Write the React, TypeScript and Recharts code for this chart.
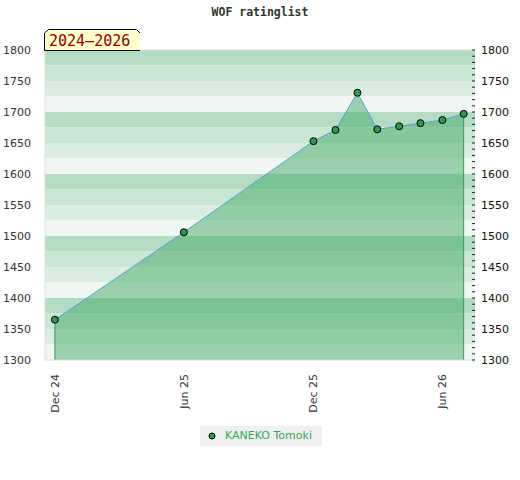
import React from "react";
import {
  ComposedChart,
  Area,
  Line,
  XAxis,
  YAxis,
  ReferenceArea,
  ReferenceLine,
} from "recharts";

// monthly rating list entries
const months = [
  [2024, 12],
  [2025, 6],
  [2025, 12],
  [2026, 1],
  [2026, 2],
  [2026, 3],
  [2026, 4],
  [2026, 5],
  [2026, 6],
  [2026, 7],
];
const ratings = [1365, 1506, 1653, 1671, 1731, 1672, 1677, 1682, 1687, 1697];

const xTickMonths = [
  [2024, 12],
  [2025, 6],
  [2025, 12],
  [2026, 6],
];
const xTickLabels = ["Dec 24", "Jun 25", "Dec 25", "Jun 26"];

const yMajorTicks = [1300, 1350, 1400, 1450, 1500, 1550, 1600, 1650, 1700, 1750, 1800];
const yMin = 1300;
const yMax = 1800;
const minorStep = 10;
const bandStep = 25;
const bandShades = ["#b3dcc3", "#c8e6d3", "#dbede1", "#f0f7f2"];

const toTime = ([y, m]: number[]) => Date.UTC(y, m - 1, 1);
const DAY = 86400000;

const data = months.map((m, i) => ({ t: toTime(m), rating: ratings[i] }));
const xTicks = xTickMonths.map(toTime);
const xDomain = [data[0].t - 14 * DAY, data[data.length - 1].t + 16 * DAY];

const minorTicks: number[] = [];
for (let v = yMin; v <= yMax; v += minorStep) minorTicks.push(v);

const bands: { y1: number; y2: number; fill: string }[] = [];
for (let top = yMax; top > yMin; top -= bandStep) {
  const idx = ((yMax - top) / bandStep) % 4;
  bands.push({ y1: top - bandStep, y2: top, fill: bandShades[idx] });
}

const first = data[0];
const last = data[data.length - 1];

function XTick(props: any) {
  const { x, y, payload } = props;
  const label = xTickLabels[xTicks.indexOf(payload.value)];
  return (
    <text
      x={x}
      y={y + 12}
      dy={4}
      transform={`rotate(-90, ${x}, ${y + 12})`}
      textAnchor="end"
      fontSize={11}
      fill="#333"
    >
      {label}
    </text>
  );
}

function RightTick(props: any) {
  const { x, y, payload } = props;
  const v = payload.value;
  return (
    <g>
      <line x1={x - 3} x2={x} y1={y} y2={y} stroke="#222" />
      {v % 50 === 0 && (
        <text x={x + 6} y={y} dy={4} fontSize={11} fill="#111">
          {v}
        </text>
      )}
    </g>
  );
}

export default function App() {
  return (
    <div
      style={{
        position: "absolute",
        left: 0,
        top: 0,
        width: 520,
        height: 480,
        background: "#fff",
        fontFamily: "'DejaVu Sans', sans-serif",
      }}
    >
      <div
        style={{
          position: "absolute",
          left: 0,
          top: 5,
          width: 520,
          textAlign: "center",
          fontFamily: "'DejaVu Sans Mono', monospace",
          fontWeight: "bold",
          fontSize: 11.5,
          color: "#333",
        }}
      >
        WOF ratinglist
      </div>

      <ComposedChart
        width={520}
        height={480}
        data={data}
        margin={{ top: 50, right: 0, bottom: 0, left: 0 }}
      >
        {bands.map((b) => (
          <ReferenceArea
            key={b.y2}
            yAxisId="left"
            y1={b.y1}
            y2={b.y2}
            fill={b.fill}
            fillOpacity={1}
            stroke="none"
          />
        ))}
        <ReferenceLine yAxisId="left" y={yMax} stroke="#dddddd" />

        <XAxis
          dataKey="t"
          type="number"
          scale="time"
          domain={xDomain}
          ticks={xTicks}
          height={120}
          tickLine={false}
          tickSize={0}
          tick={<XTick />}
          axisLine={{ stroke: "#dddddd" }}
        />
        <YAxis
          yAxisId="left"
          width={45}
          domain={[yMin, yMax]}
          ticks={yMajorTicks}
          tickLine={false}
          tickMargin={8}
          axisLine={{ stroke: "#dddddd" }}
          tick={{ fontSize: 11, fill: "#333" }}
        />
        <YAxis
          yAxisId="right"
          orientation="right"
          width={45}
          domain={[yMin, yMax]}
          ticks={minorTicks}
          interval={0}
          tickLine={false}
          tickSize={0}
          tickMargin={0}
          axisLine={false}
          tick={<RightTick />}
        />

        <Area
          yAxisId="left"
          type="linear"
          dataKey="rating"
          stroke="#5aa0dc"
          strokeWidth={1}
          fill="rgb(65,170,99)"
          fillOpacity={0.49}
          dot={{ r: 3.5, fill: "#2f9a50", stroke: "#000", strokeWidth: 1, fillOpacity: 1 }}
          activeDot={false}
          isAnimationActive={false}
        />
        {/* invisible twin so the right-hand scale gets drawn */}
        <Line
          yAxisId="right"
          type="linear"
          dataKey="rating"
          stroke="none"
          dot={false}
          activeDot={false}
          legendType="none"
          isAnimationActive={false}
        />
        <ReferenceLine
          yAxisId="left"
          segment={[
            { x: first.t, y: yMin },
            { x: first.t, y: first.rating },
          ]}
          stroke="#3a9a5a"
        />
        <ReferenceLine
          yAxisId="left"
          segment={[
            { x: last.t, y: yMin },
            { x: last.t, y: last.rating },
          ]}
          stroke="#3a9a5a"
        />
      </ComposedChart>

      <svg
        width={100}
        height={26}
        style={{ position: "absolute", left: 40, top: 26 }}
      >
        <polygon
          points="4.5,24.5 4.5,7 8.5,3.5 96.5,3.5 100.5,7.5 100.5,24.5"
          fill="#ffffcc"
          stroke="#000"
          strokeWidth={1}
        />
        <text
          x={9}
          y={20}
          fontFamily="'DejaVu Sans Mono', monospace"
          fontSize={15}
          fill="#8b0000"
        >
          2024–2026
        </text>
      </svg>

      <div
        style={{
          position: "absolute",
          left: 200,
          top: 426,
          width: 122,
          height: 20,
          background: "#f0f0f0",
          fontSize: 11,
          color: "#3aa65c",
          lineHeight: "20px",
        }}
      >
        <svg
          width={10}
          height={10}
          style={{ position: "absolute", left: 7, top: 5 }}
        >
          <circle cx={5} cy={5} r={3} fill="#2f9a50" stroke="#000" />
        </svg>
        <span style={{ position: "absolute", left: 25 }}>KANEKO Tomoki</span>
      </div>
    </div>
  );
}
